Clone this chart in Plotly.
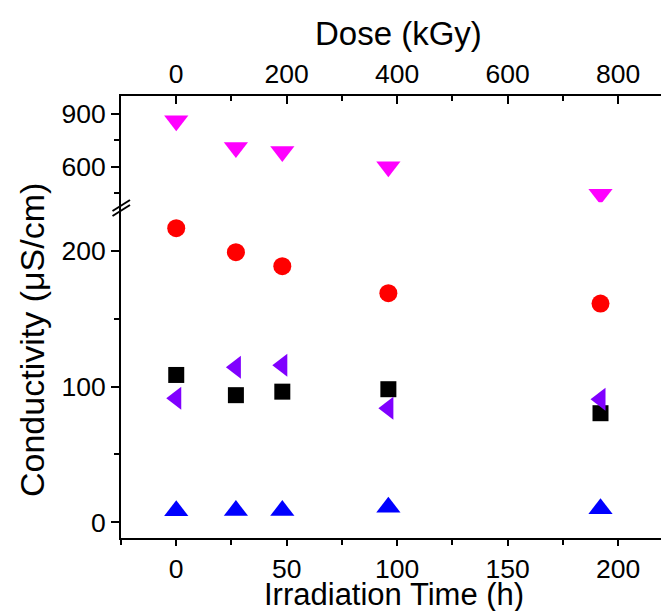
import plotly.graph_objects as go

# ---- data ----
time_h = [0, 27, 48, 96, 192]
dose_ticks = [0, 200, 400, 600, 800]
time_ticks = [0, 50, 100, 150, 200]

magenta_vals = [861, 709, 687, 600, 446]   # upper (broken) segment
red_vals = [216.8, 199.1, 188.8, 168.9, 161.2]
black_vals = [108.6, 93.7, 96.3, 98.1, 80.4]
purple_vals = [91.4, 114.3, 115.8, 84.1, 90.7]
blue_vals = [8.5, 8.6, 8.6, 11.1, 10.0]

lower_ticks = [0, 100, 200]
lower_minor = [50, 150]
upper_ticks = [600, 900]
upper_minor = [450, 750]

FONT = "Liberation Sans, Arial, sans-serif"
OFF = 8                      # page body margin
W, H = 669 - OFF, 611 - OFF
L, R, T = 121 - OFF, 0, 96 - OFF
B = H + OFF - 538
split = 0.7595
pw = W - L - R
ph = H - T - B

def px(x):
    return (x - OFF - L) / pw

def py(y):
    return (H - B - (y - OFF)) / ph

fig = go.Figure()

def add(vals, color, symbol, size, yaxis="y"):
    fig.add_trace(go.Scatter(
        x=time_h, y=vals, mode="markers", xaxis="x", yaxis=yaxis,
        marker=dict(color=color, symbol=symbol, size=size, line=dict(width=0)),
        showlegend=False))

add(red_vals, "#FF0000", "circle", 18)
add(black_vals, "#000000", "square", 16)
add(purple_vals, "#8000FF", "triangle-left", 20)
add(blue_vals, "#0000FF", "triangle-up", 21)
add(magenta_vals, "#FF00FF", "triangle-down", 21, yaxis="y2")
# invisible trace so that the top (dose) axis is drawn
fig.add_trace(go.Scatter(x=[t * 4 for t in time_h], y=magenta_vals, xaxis="x2",
                         yaxis="y2", mode="markers", marker=dict(opacity=0),
                         hoverinfo="skip", showlegend=False))

axis_common = dict(showline=True, linecolor="black", linewidth=2,
                   ticks="outside", tickcolor="black", tickwidth=2, ticklen=8,
                   showgrid=False, zeroline=False, automargin=False,
                   tickfont=dict(family=FONT, size=26.5, color="black"))
minor_common = dict(ticklen=5, tickcolor="black", tickwidth=2)

fig.update_layout(
    width=W, height=H,
    margin=dict(l=L, r=R, t=T, b=B, pad=0, autoexpand=False),
    plot_bgcolor="white", paper_bgcolor="white",
    xaxis=dict(axis_common, range=[-25, 223], anchor="y", ticklen=6,
               tickvals=time_ticks,
               minor=dict(minor_common, tickvals=[-25, 25, 75, 125, 175],
                          ticks="outside")),
    xaxis2=dict(axis_common, range=[-100, 892], overlaying="x", anchor="y2",
                side="top", ticks="inside", tickvals=dose_ticks,
                minor=dict(minor_common, tickvals=[100, 300, 500, 700],
                           ticks="inside")),
    yaxis=dict(axis_common, domain=[0, split], range=[-11.6, 235.9],
               tickvals=lower_ticks,
               minor=dict(minor_common, tickvals=lower_minor, ticks="outside")),
    yaxis2=dict(axis_common, domain=[split, 1], range=[400, 1000],
                tickvals=upper_ticks,
                minor=dict(minor_common, tickvals=upper_minor, ticks="outside")),
)

fig.add_annotation(text="Irradiation Time (h)", xref="paper", yref="paper",
                   x=px(394), y=py(594), xanchor="center", yanchor="middle",
                   showarrow=False,
                   font=dict(family=FONT, size=31, color="black"))
fig.add_annotation(text="Dose (kGy)", xref="paper", yref="paper",
                   x=px(398), y=py(33), xanchor="center", yanchor="middle",
                   showarrow=False,
                   font=dict(family=FONT, size=33, color="black"))
fig.add_annotation(text="Conductivity (μS/cm)", xref="paper", yref="paper",
                   x=px(32), y=py(340), xanchor="center", yanchor="middle",
                   textangle=-90, showarrow=False,
                   font=dict(family=FONT, size=34, color="black"))

# axis-break marks
for dy in (0, 5):
    fig.add_shape(type="line", xref="paper", yref="paper",
                  x0=px(112.5), y0=py(211 + dy), x1=px(130), y1=py(200 + dy),
                  line=dict(color="black", width=2))

fig.write_html("out.html")
